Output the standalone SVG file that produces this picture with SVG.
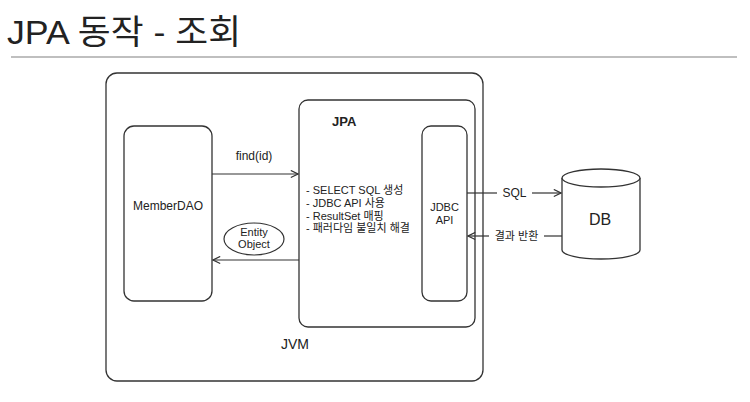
<svg xmlns="http://www.w3.org/2000/svg" width="750" height="402" viewBox="0 0 750 402">
<defs>
<style>
.t{font-family:"Liberation Sans","Noto Sans CJK KR",sans-serif;fill:#222}
.box{fill:#fff;stroke:#333;stroke-width:1.3}
.ln{stroke:#333;stroke-width:1.2;fill:none}
</style>
<marker id="arr" viewBox="0 0 10 10" refX="9" refY="5" markerWidth="9" markerHeight="9" markerUnits="userSpaceOnUse" orient="auto">
<path d="M1,1 L9,5 L1,9" fill="none" stroke="#333" stroke-width="1.3"/>
</marker>
</defs>
<rect width="750" height="402" fill="#fff"/>
<g id="title">
<text class="t" x="7" y="44" font-size="34" fill="#000" textLength="234" lengthAdjust="spacingAndGlyphs">JPA 동작 - 조회</text>
<line x1="11" y1="57" x2="737" y2="57" stroke="#aaa" stroke-width="1.5"/>
</g>
<g id="jvm">
<rect class="box" x="106" y="73" width="377" height="308" rx="11"/>
<text class="t" x="295" y="349" font-size="14" text-anchor="middle">JVM</text>
</g>
<g id="memberdao">
<rect class="box" x="124" y="126" width="88" height="175" rx="10"/>
<text class="t" x="168" y="210" font-size="12" text-anchor="middle">MemberDAO</text>
</g>
<g id="jpa">
<rect class="box" x="299" y="100" width="176" height="227" rx="9"/>
<text class="t" x="332" y="126" font-size="13" font-weight="bold">JPA</text>
<text class="t" x="306" y="194" font-size="11">- SELECT SQL 생성</text>
<text class="t" x="306" y="207" font-size="11">- JDBC API 사용</text>
<text class="t" x="306" y="220" font-size="11">- ResultSet 매핑</text>
<text class="t" x="306" y="232" font-size="11">- 패러다임 불일치 해결</text>
</g>
<g id="jdbcapi">
<rect class="box" x="422" y="126" width="45" height="175" rx="9"/>
<text class="t" x="444.5" y="211" font-size="11" text-anchor="middle">JDBC</text>
<text class="t" x="444.5" y="224" font-size="11" text-anchor="middle">API</text>
</g>
<g id="db">
<path class="box" d="M562,178 L562,250 A39,9 0 0 0 640,250 L640,178"/>
<ellipse class="box" cx="601" cy="178" rx="39" ry="9"/>
<text class="t" x="600" y="225" font-size="16" text-anchor="middle">DB</text>
</g>
<g id="entity-object">
<ellipse cx="254" cy="239" rx="30" ry="16" fill="#fff" stroke="#333" stroke-width="1.2"/>
<text class="t" x="254" y="236" font-size="11" text-anchor="middle">Entity</text>
<text class="t" x="254" y="248" font-size="11" text-anchor="middle">Object</text>
</g>
<g id="connectors">
<line class="ln" x1="212" y1="174" x2="298" y2="174" marker-end="url(#arr)"/>
<text class="t" x="254" y="160" font-size="12" text-anchor="middle">find(id)</text>
<line class="ln" x1="299" y1="260" x2="213" y2="260" marker-end="url(#arr)"/>
<line class="ln" x1="467" y1="193" x2="497" y2="193"/>
<line class="ln" x1="532" y1="193" x2="561" y2="193" marker-end="url(#arr)"/>
<text class="t" x="514.5" y="197" font-size="12" text-anchor="middle">SQL</text>
<line class="ln" x1="562" y1="236" x2="544" y2="236"/>
<line class="ln" x1="489" y1="236" x2="468" y2="236" marker-end="url(#arr)"/>
<text class="t" x="516.5" y="240" font-size="11" text-anchor="middle">결과 반환</text>
</g>
</svg>
